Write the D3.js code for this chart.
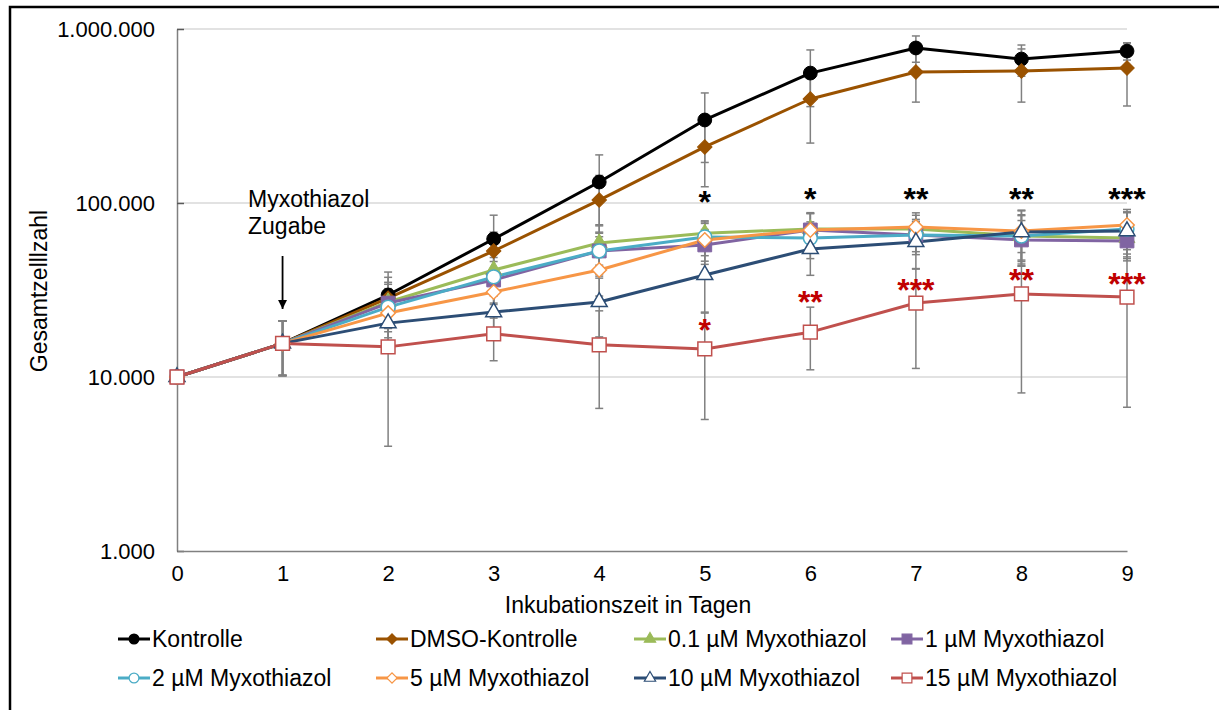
<!DOCTYPE html>
<html>
<head>
<meta charset="utf-8">
<script src="https://cdn.jsdelivr.net/npm/d3@7"></script>
<style>
    body { margin: 0; background: #ffffff; }
    svg text { font-family: "Liberation Sans", Arial, sans-serif; fill: #000000; }
</style>
</head>
<body>
<svg id="growth-chart"></svg>
<script>
// Incubation days on the x-axis
const days = [0, 1, 2, 3, 4, 5, 6, 7, 8, 9];

// Mean total cell counts per series
const kontrolle      = [10000, 15600, 29600, 62100, 132000, 300000, 558000, 778000, 672000, 747000];
const dmso_kontrolle = [10000, 15600, 28400, 53000, 104000, 210000, 396000, 566000, 574000, 597000];
const myxo_0_1       = [10000, 15600, 27000, 41200, 58900, 67000, 71000, 71000, 64600, 62900];
const myxo_1         = [10000, 15600, 26600, 36100, 53000, 57400, 70000, 65500, 61300, 60500];
const myxo_2         = [10000, 15600, 25200, 37600, 53000, 63800, 62900, 65500, 64600, 70900];
const myxo_5         = [10000, 15600, 23300, 30800, 41200, 61300, 70000, 72800, 69000, 74800];
const myxo_10        = [10000, 15600, 20400, 23600, 27000, 38600, 54400, 59700, 68100, 69000];
const myxo_15        = [10000, 15600, 14900, 17700, 15300, 14500, 18100, 26600, 30000, 28800];

// Standard deviations per series (symmetric error bars)
const kontrolle_sd      = [0, 5400, 10500, 23000, 57000, 129000, 200000, 134000, 137000, 84000];
const dmso_kontrolle_sd = [0, 5400, 9000, 15000, 40000, 86000, 175000, 186000, 194000, 236000];
const myxo_0_1_sd       = [0, 5400, 8000, 12000, 15000, 12000, 16000, 14000, 20000, 15000];
const myxo_1_sd         = [0, 5400, 7500, 10000, 14000, 13000, 17000, 13000, 18000, 14000];
const myxo_2_sd         = [0, 5400, 7000, 11000, 15000, 14000, 15000, 15000, 21000, 17000];
const myxo_5_sd         = [0, 5400, 6500, 9000, 12000, 15000, 18000, 15000, 22000, 17000];
const myxo_10_sd        = [0, 5400, 6000, 7000, 10000, 15000, 16000, 18000, 22000, 20000];
const myxo_15_sd        = [0, 5400, 10900, 5300, 8700, 8800, 7100, 15400, 21900, 22100];

// Series names for the legend
const series_names = ["Kontrolle", "DMSO-Kontrolle", "0.1 µM Myxothiazol", "1 µM Myxothiazol",
    "2 µM Myxothiazol", "5 µM Myxothiazol", "10 µM Myxothiazol", "15 µM Myxothiazol"];

// Tick labels of the axes
const y_tick_values = [1000, 10000, 100000, 1000000];
const y_tick_labels = ["1.000", "10.000", "100.000", "1.000.000"];

// Significance stars (vs. control in black, vs. 15 µM in red)
const sig_days = [5, 6, 7, 8, 9];
const sig_black_labels = ["*", "*", "**", "**", "***"];
const sig_black_values = [111000, 115000, 115000, 115000, 115000];
const sig_red_labels = ["*", "**", "***", "**", "***"];
const sig_red_values = [20400, 29600, 34700, 39600, 37600];

// Build the series table used for drawing
const series_data = [
    { name: series_names[0], values: kontrolle, sd: kontrolle_sd, color: "#000000", symbol: "circle", filled: true },
    { name: series_names[1], values: dmso_kontrolle, sd: dmso_kontrolle_sd, color: "#9A5200", symbol: "diamond", filled: true },
    { name: series_names[2], values: myxo_0_1, sd: myxo_0_1_sd, color: "#9BBB59", symbol: "triangle", filled: true },
    { name: series_names[3], values: myxo_1, sd: myxo_1_sd, color: "#8064A2", symbol: "square", filled: true },
    { name: series_names[4], values: myxo_2, sd: myxo_2_sd, color: "#4BACC6", symbol: "circle", filled: false },
    { name: series_names[5], values: myxo_5, sd: myxo_5_sd, color: "#F79646", symbol: "diamond", filled: false },
    { name: series_names[6], values: myxo_10, sd: myxo_10_sd, color: "#2C4D75", symbol: "triangle", filled: false },
    { name: series_names[7], values: myxo_15, sd: myxo_15_sd, color: "#C0504D", symbol: "square", filled: false }
];

// Dimensions of the whole figure and of the plot area
const width = 1219, height = 710;
const plot_left = 177, plot_right = 1127, plot_top = 29, plot_bottom = 551;

const svg = d3.select("#growth-chart")
    .attr("width", width)
    .attr("height", height);

// Outer frame of the figure (right/bottom edges fall outside the picture)
svg.append("rect")
    .attr("x", 10).attr("y", 7)
    .attr("width", 1240).attr("height", 740)
    .attr("fill", "none")
    .attr("stroke", "#000000")
    .attr("stroke-width", 2.5);

// Scales
const x_scale = d3.scaleLinear().domain([0, 9]).range([plot_left, plot_right]);
const y_scale = d3.scaleLog().domain([1000, 1000000]).range([plot_bottom, plot_top]);

// Horizontal gridlines
svg.append("g")
    .selectAll("line")
    .data(y_tick_values.slice(1))
    .join("line")
    .attr("x1", plot_left).attr("x2", plot_right)
    .attr("y1", d => y_scale(d)).attr("y2", d => y_scale(d))
    .attr("stroke", "#d9d9d9")
    .attr("stroke-width", 1.3);

// Y-axis with inside ticks
const y_axis = svg.append("g")
    .attr("transform", `translate(${plot_left},0)`)
    .call(d3.axisLeft(y_scale).tickValues(y_tick_values).tickSizeInner(-7).tickSizeOuter(0)
        .tickFormat((d, i) => y_tick_labels[i]));
y_axis.select(".domain").attr("stroke", "#808080").attr("stroke-width", 1.5);
y_axis.selectAll(".tick line").attr("stroke", "#595959").attr("stroke-width", 1.5);
y_axis.selectAll(".tick text")
    .attr("x", -22)
    .style("font-size", "22px")
    .style("font-family", "Liberation Sans, Arial, sans-serif");

// X-axis without ticks
const x_axis = svg.append("g")
    .attr("transform", `translate(0,${plot_bottom})`)
    .call(d3.axisBottom(x_scale).tickValues(days).tickSize(0).tickFormat(d3.format("d")));
x_axis.select(".domain").attr("stroke", "#808080").attr("stroke-width", 1.5);
x_axis.selectAll(".tick text")
    .attr("y", 14)
    .style("font-size", "22px")
    .style("font-family", "Liberation Sans, Arial, sans-serif");

// Axis titles
svg.append("text")
    .attr("x", 628).attr("y", 613)
    .attr("text-anchor", "middle")
    .style("font-size", "23px")
    .text("Inkubationszeit in Tagen");
svg.append("text")
    .attr("transform", "translate(47,291) rotate(-90)")
    .attr("text-anchor", "middle")
    .style("font-size", "23px")
    .text("Gesamtzelllzahl");

// Helper returning the d3 symbol path for a marker
function marker_path(symbol, size) {
    const type = symbol === "circle" ? d3.symbolCircle
        : symbol === "triangle" ? d3.symbolTriangle
        : d3.symbolSquare;
    return d3.symbol().type(type).size(size)();
}
const marker_sizes = { circle: 150, diamond: 105, triangle: 110, square: 190 };

// Error bars
const cap = 4;
series_data.forEach(s => {
    const bars = svg.append("g").attr("stroke", "#808080").attr("stroke-width", 1.5);
    days.forEach((d, i) => {
        if (s.sd[i] <= 0) return;
        const lo = Math.max(s.values[i] - s.sd[i], 1000);
        const hi = s.values[i] + s.sd[i];
        const x = x_scale(d);
        bars.append("line").attr("x1", x).attr("x2", x).attr("y1", y_scale(lo)).attr("y2", y_scale(hi));
        bars.append("line").attr("x1", x - cap).attr("x2", x + cap).attr("y1", y_scale(lo)).attr("y2", y_scale(lo));
        bars.append("line").attr("x1", x - cap).attr("x2", x + cap).attr("y1", y_scale(hi)).attr("y2", y_scale(hi));
    });
});

// Lines and markers of each series
const line_gen = d3.line()
    .x((d, i) => x_scale(days[i]))
    .y(d => y_scale(d));

series_data.forEach(s => {
    svg.append("path")
        .datum(s.values)
        .attr("d", line_gen)
        .attr("fill", "none")
        .attr("stroke", s.color)
        .attr("stroke-width", 3)
        .attr("stroke-linejoin", "round");
});

series_data.forEach(s => {
    svg.append("g")
        .selectAll("path")
        .data(s.values)
        .join("path")
        .attr("d", marker_path(s.symbol, marker_sizes[s.symbol]))
        .attr("transform", (d, i) => `translate(${x_scale(days[i])},${y_scale(d)})` + (s.symbol === "diamond" ? " rotate(45)" : ""))
        .attr("fill", s.filled ? s.color : "#ffffff")
        .attr("stroke", s.color)
        .attr("stroke-width", s.filled ? 1 : 1.5);
});

// Significance stars
svg.append("g")
    .selectAll("text")
    .data(sig_days)
    .join("text")
    .attr("x", d => x_scale(d))
    .attr("y", (d, i) => y_scale(sig_black_values[i]) + 18)
    .attr("text-anchor", "middle")
    .style("font-size", "32px")
    .style("font-weight", "bold")
    .text((d, i) => sig_black_labels[i]);
svg.append("g")
    .selectAll("text")
    .data(sig_days)
    .join("text")
    .attr("x", d => x_scale(d))
    .attr("y", (d, i) => y_scale(sig_red_values[i]) + 18)
    .attr("text-anchor", "middle")
    .style("font-size", "32px")
    .style("font-weight", "bold")
    .style("fill", "#C00000")
    .text((d, i) => sig_red_labels[i]);

// Annotation for the addition of Myxothiazol
svg.append("text")
    .attr("x", 248).attr("y", 207)
    .style("font-size", "23px")
    .text("Myxothiazol");
svg.append("text")
    .attr("x", 248).attr("y", 234)
    .style("font-size", "23px")
    .text("Zugabe");
svg.append("defs").append("marker")
    .attr("id", "arrow-head")
    .attr("viewBox", "0 0 10 10")
    .attr("refX", 10).attr("refY", 5)
    .attr("markerWidth", 10).attr("markerHeight", 9)
    .attr("markerUnits", "userSpaceOnUse")
    .attr("orient", "auto")
    .append("path")
    .attr("d", "M0,0 L10,5 L0,10 Z")
    .attr("fill", "#000000");
svg.append("line")
    .attr("x1", x_scale(1)).attr("x2", x_scale(1))
    .attr("y1", 256).attr("y2", 309)
    .attr("stroke", "#000000")
    .attr("stroke-width", 1.8)
    .attr("marker-end", "url(#arrow-head)");

// Legend in two rows of four
const legend_cols = [118, 376, 634, 891];
const legend_rows = [639, 678];
const legend = svg.append("g")
    .selectAll("g")
    .data(series_data)
    .join("g")
    .attr("transform", (d, i) => `translate(${legend_cols[i % 4]},${legend_rows[Math.floor(i / 4)]})`);
legend.append("line")
    .attr("x1", 0).attr("x2", 32)
    .attr("stroke", d => d.color)
    .attr("stroke-width", 3);
legend.append("path")
    .attr("d", d => marker_path(d.symbol, marker_sizes[d.symbol] * 0.5))
    .attr("transform", d => "translate(16,0)" + (d.symbol === "diamond" ? " rotate(45)" : ""))
    .attr("fill", d => d.filled ? d.color : "#ffffff")
    .attr("stroke", d => d.color)
    .attr("stroke-width", 1.2);
legend.append("text")
    .attr("x", 34).attr("y", 8)
    .style("font-size", "23px")
    .text(d => d.name);
</script>
</body>
</html>
